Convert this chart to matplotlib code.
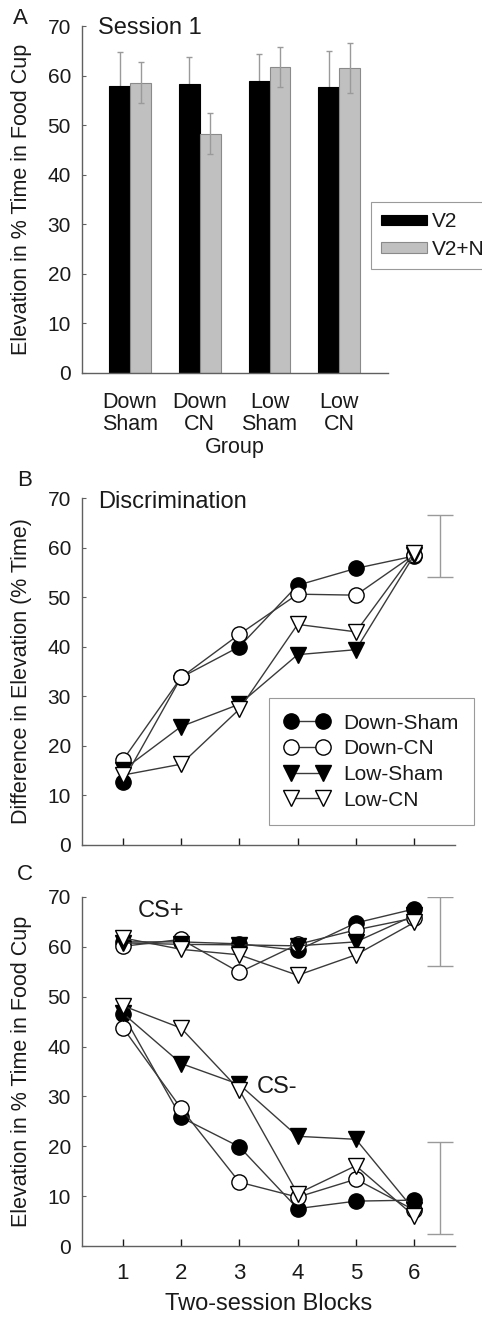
import numpy as np
import matplotlib
matplotlib.use("Agg")
import matplotlib.pyplot as plt

plt.rcParams['font.family'] = ['Liberation Sans', 'DejaVu Sans']
plt.rcParams['text.color'] = '#1a1a1a'
plt.rcParams['axes.labelcolor'] = '#1a1a1a'
plt.rcParams['xtick.color'] = '#1a1a1a'
plt.rcParams['ytick.color'] = '#1a1a1a'

# --- Panel A: session 1 elevation by group ---
groups = ['Down\nSham', 'Down\nCN', 'Low\nSham', 'Low\nCN']
v2_mean = [57.8, 58.4, 58.9, 57.6]
v2_err = [6.9, 5.4, 5.4, 7.4]
v2n_mean = [58.6, 48.3, 61.7, 61.5]
v2n_err = [4.1, 4.1, 4.1, 5.0]

# --- Panels B and C: two-session blocks ---
blocks = [1, 2, 3, 4, 5, 6]
series_names = ['Down-Sham', 'Down-CN', 'Low-Sham', 'Low-CN']

disc = {
    'Down-Sham': [12.8, 33.8, 40.0, 52.4, 55.8, 58.3],
    'Down-CN':   [17.1, 33.8, 42.5, 50.6, 50.4, 58.6],
    'Low-Sham':  [15.1, 23.9, 28.4, 38.4, 39.4, 58.5],
    'Low-CN':    [14.1, 16.3, 27.4, 44.5, 43.0, 59.0],
}
disc_err_mean, disc_err = 60.3, 6.2

cs_plus = {
    'Down-Sham': [61.0, 61.0, 60.6, 59.3, 64.8, 67.6],
    'Down-CN':   [60.1, 61.5, 54.9, 60.5, 63.4, 65.8],
    'Low-Sham':  [60.8, 60.5, 60.4, 60.2, 61.0, 66.3],
    'Low-CN':    [61.8, 59.5, 58.4, 54.3, 58.4, 64.9],
}
cs_minus = {
    'Down-Sham': [46.5, 25.8, 19.9, 7.5, 9.0, 9.2],
    'Down-CN':   [43.8, 27.6, 12.8, 9.8, 13.4, 7.2],
    'Low-Sham':  [46.7, 36.6, 32.4, 22.0, 21.4, 7.2],
    'Low-CN':    [48.2, 43.7, 31.3, 10.5, 16.1, 6.0],
}
cs_plus_err_mean, cs_plus_err = 63.1, 7.0
cs_minus_err_mean, cs_minus_err = 11.7, 9.2

styles = {
    'Down-Sham': dict(marker='o', mfc='black'),
    'Down-CN':   dict(marker='o', mfc='white'),
    'Low-Sham':  dict(marker='v', mfc='black'),
    'Low-CN':    dict(marker='v', mfc='white'),
}

TICK = 15
LABEL = 15.5
TITLE = 17
SPINE = '#606060'
ERR = '#9a9a9a'

W, H = 482, 1317
fig = plt.figure(figsize=(W / 100, H / 100), dpi=100)


def px_axes(left, right, top, bottom):
    return fig.add_axes([left / W, 1 - bottom / H, (right - left) / W, (bottom - top) / H])


def style_axes(ax):
    for s in ['top', 'right']:
        ax.spines[s].set_visible(False)
    for s in ['left', 'bottom']:
        ax.spines[s].set_color(SPINE)
        ax.spines[s].set_linewidth(1.0)
    ax.set_ylim(0, 70)
    ax.set_yticks(range(0, 71, 10))
    ax.tick_params(axis='y', direction='in', length=3, width=0.8, pad=8, labelsize=TICK, color=SPINE)


# Panel A
axA = px_axes(82, 388, 26, 373)
style_axes(axA)
x = np.arange(len(groups))
bw = 0.30
axA.errorbar(x - bw / 2, v2_mean, yerr=v2_err, fmt='none', ecolor=ERR, elinewidth=1,
             capsize=2.5, capthick=1, zorder=1)
axA.bar(x - bw / 2, v2_mean, bw, color='black', edgecolor='black', linewidth=0.8, label='V2', zorder=2)
axA.bar(x + bw / 2, v2n_mean, bw, color='#c0c0c0', edgecolor='#8a8a8a', linewidth=0.8,
        label='V2+N', zorder=2)
axA.errorbar(x + bw / 2, v2n_mean, yerr=v2n_err, fmt='none', ecolor=ERR, elinewidth=1,
             capsize=2.5, capthick=1, zorder=3)
axA.set_xlim(-0.69, 3.70)
axA.set_xticks(x)
axA.set_xticklabels(groups, linespacing=1.05)
axA.tick_params(axis='x', length=0, pad=14, labelsize=LABEL)
axA.set_xlabel('Group', fontsize=LABEL, labelpad=1)
axA.set_ylabel('Elevation in % Time in Food Cup', fontsize=LABEL, va='center')
axA.yaxis.set_label_coords((22 - 82) / 306, 0.5)
axA.text(0.052, 0.994, 'Session 1', transform=axA.transAxes, fontsize=TITLE, ha='left', va='center')
legA = axA.legend(loc='upper left', bbox_to_anchor=(371 / W, 1 - 202 / H),
                  bbox_transform=fig.transFigure, borderaxespad=0, fontsize=TICK,
                  frameon=True, fancybox=False, framealpha=1, edgecolor='#9a9a9a',
                  handlelength=2.2, handleheight=0.4, handletextpad=0.2,
                  borderpad=0.5, labelspacing=0.4)
legA.get_frame().set_linewidth(0.8)


def draw_lines(ax, data, label=True):
    for name in series_names:
        st = styles[name]
        ax.plot(blocks, data[name], color='#3a3a3a', lw=1, marker=st['marker'],
                mfc=st['mfc'], mec='black', mew=1, ms=11,
                label=name if label else None)


def style_blocks(ax):
    ax.set_xlim(0.3, 6.7)
    ax.set_xticks(blocks)
    ax.tick_params(axis='x', direction='in', length=5, width=1, pad=12, labelsize=TICK + 1)


# Panel B
axB = px_axes(82, 455, 498, 845)
style_axes(axB)
style_blocks(axB)
axB.set_xticklabels([])
draw_lines(axB, disc)
axB.errorbar([6.45], [disc_err_mean], yerr=[disc_err], fmt='none', ecolor=ERR,
             elinewidth=1, capsize=9.4, capthick=1)
axB.set_ylabel('Difference in Elevation (% Time)', fontsize=LABEL, va='center')
axB.yaxis.set_label_coords((22 - 82) / 373, 0.5)
axB.text(0.043, 0.988, 'Discrimination', transform=axB.transAxes, fontsize=TITLE,
         ha='left', va='center')
legB = axB.legend(loc='upper left', bbox_to_anchor=((269 - 82) / 373, (845 - 698) / 347),
                  borderaxespad=0, fontsize=TICK, numpoints=2, frameon=True,
                  fancybox=False, framealpha=1, edgecolor='#9a9a9a',
                  handlelength=2.15, handletextpad=0.65, borderpad=0.75, labelspacing=0.32)
legB.get_frame().set_linewidth(0.8)

# Panel C
axC = px_axes(82, 455, 897, 1246)
style_axes(axC)
style_blocks(axC)
draw_lines(axC, cs_plus, label=False)
draw_lines(axC, cs_minus, label=False)
axC.errorbar([6.45, 6.45], [cs_plus_err_mean, cs_minus_err_mean],
             yerr=[cs_plus_err, cs_minus_err], fmt='none', ecolor=ERR,
             elinewidth=1, capsize=9.4, capthick=1)
axC.text(1.25, 67.1, 'CS+', fontsize=TITLE, ha='left', va='center')
axC.text(3.30, 31.9, 'CS-', fontsize=TITLE, ha='left', va='center')
axC.set_ylabel('Elevation in % Time in Food Cup', fontsize=LABEL, va='center')
axC.yaxis.set_label_coords((22 - 82) / 373, 0.5)
axC.set_xlabel('Two-session Blocks', fontsize=TITLE, labelpad=7)

# Panel letters
fig.text(20 / W, 1 - 19 / H, 'A', fontsize=16, ha='center', va='center')
fig.text(25 / W, 1 - 480 / H, 'B', fontsize=16, ha='center', va='center')
fig.text(25 / W, 1 - 875 / H, 'C', fontsize=16, ha='center', va='center')

fig.savefig('out.png', dpi=100)
